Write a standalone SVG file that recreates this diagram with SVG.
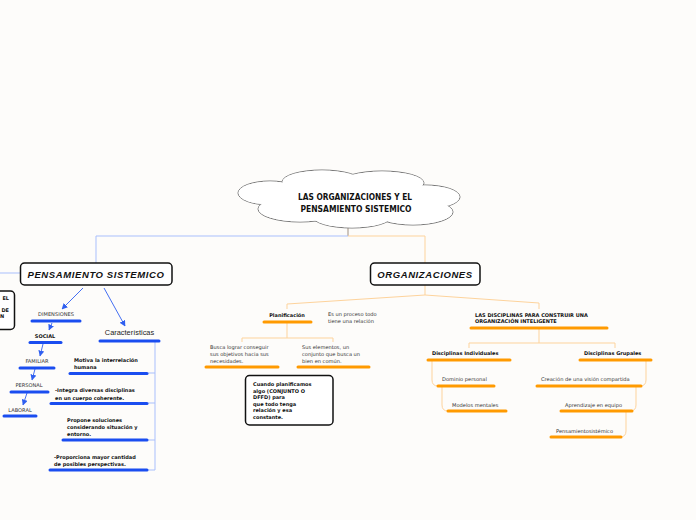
<svg xmlns="http://www.w3.org/2000/svg" width="696" height="520" viewBox="0 0 696 520">
<defs>
<marker id="ab" viewBox="0 0 10 10" refX="9" refY="5" markerWidth="6" markerHeight="6" orient="auto-start-reverse" markerUnits="userSpaceOnUse"><path d="M0,0 L10,5 L0,10 z" fill="#2f5ff0"/></marker>
<style>
text{font-family:"Liberation Sans",Arial,sans-serif;}
.hb{font-size:9.5px;font-weight:bold;font-style:italic;fill:#111;text-anchor:middle;letter-spacing:0.6px}
.box{fill:#fff;stroke:#111;stroke-width:1.5}
.s{font-family:"DejaVu Sans",Verdana,sans-serif;font-size:5.1px;fill:#333}
.sb{font-family:"DejaVu Sans",Verdana,sans-serif;font-size:5px;fill:#111;font-weight:bold}
.ub{stroke:#1a4df0;stroke-width:3;stroke-linecap:round;fill:none}
.uo{stroke:#ff9a00;stroke-width:3;stroke-linecap:round;fill:none}
.cb{stroke:#a9bffc;stroke-width:1;fill:none}
.co{stroke:#fdd39c;stroke-width:1;fill:none}
.arr{stroke:#2f5ff0;stroke-width:0.9;fill:none;marker-end:url(#ab)}
.cl{fill:#fff;stroke:#777;stroke-width:1}
.clf{fill:#fff;stroke:none}
</style>
</defs>
<rect width="696" height="520" fill="#fdfcfa"/>

<g id="connectors">
<path d="M348,228 V236" stroke="#a09080" stroke-width="1" fill="none"/>
<path class="cb" d="M348,236 H96 V263"/>
<path class="co" d="M348,236 H425 V263"/>
<path class="cb" d="M0,273 H20"/>
<path class="arr" d="M83,288 L62,309"/>
<path class="arr" d="M104,288 L125,326"/>
<path class="arr" d="M52,323 L49,330"/>
<path class="arr" d="M43,344 L40,356"/>
<path class="arr" d="M35,369 L32,380"/>
<path class="arr" d="M27,393 L23,405"/>
<path class="cb" d="M155,341 V470 M148,373 H155 M148,403 H155 M148,440 H155 M148,470 H155"/>
<path class="co" d="M425,285 V295 L287,304 V309 M425,295 L539,303 V309"/>
<path class="co" d="M287,322 V338 M242,342 V338 H333 V342"/>
<path class="co" d="M539,328 V343 M469,348 V343 H615 V348"/>
<path class="co" d="M432,360 V380 Q432,386 438,386 M442,386 V405 Q442,411 448,411"/>
<path class="co" d="M646,360 V380 Q646,386 640,386 M636,386 V405 Q636,411 630,411 M626,411 V431 Q626,437 620,437"/>
</g>

<g id="root">
<ellipse class="cl" cx="270" cy="193" rx="32" ry="12"/>
<ellipse class="cl" cx="322" cy="182" rx="40" ry="12"/>
<ellipse class="cl" cx="382" cy="183" rx="42" ry="12"/>
<ellipse class="cl" cx="425" cy="197" rx="35" ry="12"/>
<ellipse class="cl" cx="413" cy="212" rx="40" ry="13"/>
<ellipse class="cl" cx="352" cy="216" rx="40" ry="12"/>
<ellipse class="cl" cx="300" cy="209" rx="42" ry="13"/>
<ellipse class="clf" cx="270" cy="193" rx="31.5" ry="11.5"/>
<ellipse class="clf" cx="322" cy="182" rx="39.5" ry="11.5"/>
<ellipse class="clf" cx="382" cy="183" rx="41.5" ry="11.5"/>
<ellipse class="clf" cx="425" cy="197" rx="34.5" ry="11.5"/>
<ellipse class="clf" cx="413" cy="212" rx="39.5" ry="12.5"/>
<ellipse class="clf" cx="352" cy="216" rx="39.5" ry="11.5"/>
<ellipse class="clf" cx="300" cy="209" rx="41.5" ry="12.5"/>
<ellipse class="clf" cx="350" cy="198" rx="85" ry="18"/>
<text x="355" y="200" text-anchor="middle" font-size="8.5" font-weight="bold" style="font-family:'DejaVu Sans Condensed','DejaVu Sans',sans-serif" textLength="114" lengthAdjust="spacingAndGlyphs" fill="#111">LAS ORGANIZACIONES Y EL</text>
<text x="356" y="212" text-anchor="middle" font-size="8.5" font-weight="bold" style="font-family:'DejaVu Sans Condensed','DejaVu Sans',sans-serif" textLength="111" lengthAdjust="spacingAndGlyphs" fill="#111">PENSAMIENTO SISTEMICO</text>
</g>

<g id="pensamiento">
<rect class="box" x="20.5" y="263" width="151.5" height="22" rx="4"/>
<text class="hb" x="96" y="277.5">PENSAMIENTO SISTEMICO</text>
</g>

<g id="left-cut">
<rect class="box" x="-8" y="291" width="22.5" height="38.5" rx="4"/>
<text class="sb" x="9" y="299.5" text-anchor="end">EL</text>
<text class="sb" x="9" y="312" text-anchor="end">DE</text>
<text class="sb" x="0" y="318">N</text>
</g>

<g id="dimensiones"><text class="s" x="56" y="316" text-anchor="middle">DIMENSIONES</text><path class="ub" d="M32,321 H80"/></g>
<g id="social"><text class="sb" x="45" y="338" text-anchor="middle">SOCIAL</text><path class="ub" d="M30,342.5 H61"/></g>
<g id="familiar"><text class="s" x="37" y="363" text-anchor="middle">FAMILIAR</text><path class="ub" d="M20,368 H54"/></g>
<g id="personal"><text class="s" x="29" y="387" text-anchor="middle">PERSONAL</text><path class="ub" d="M11,392 H48"/></g>
<g id="laboral"><text class="s" x="20" y="412" text-anchor="middle">LABORAL</text><path class="ub" d="M4,416 H36"/></g>

<g id="caracteristicas"><text x="129.5" y="335" text-anchor="middle" font-size="7.4" fill="#222">Características</text><path class="ub" d="M100,341 H159"/></g>
<g id="motiva"><text class="sb" x="74" y="362">Motiva la interrelación</text><text class="sb" x="74" y="369">humana</text><path class="ub" d="M70,373.5 H147"/></g>
<g id="integra"><text class="sb" x="55" y="392">-Integra diversas disciplinas</text><text class="sb" x="55" y="399.5">en un cuerpo coherente.</text><path class="ub" d="M51,403.5 H147"/></g>
<g id="propone"><text class="sb" x="67" y="422">Propone soluciones</text><text class="sb" x="67" y="429">considerando situación y</text><text class="sb" x="67" y="435.5">entorno.</text><path class="ub" d="M63,440 H147"/></g>
<g id="proporciona"><text class="sb" x="54" y="459">-Proporciona mayor cantidad</text><text class="sb" x="54" y="465.5">de posibles perspectivas.</text><path class="ub" d="M50,470 H147"/></g>

<g id="organizaciones">
<rect class="box" x="370.5" y="263" width="109.5" height="22" rx="4"/>
<text class="hb" x="425" y="277.5">ORGANIZACIONES</text>
</g>

<g id="planificacion"><text class="sb" x="287" y="317" text-anchor="middle">Planificación</text><path class="uo" d="M264,322 H311"/></g>
<g id="proceso"><text class="s" x="328" y="316">Es un proceso todo</text><text class="s" x="328" y="322.5">tiene una relación</text></g>
<g id="busca"><text class="s" x="210" y="349">Busca lograr conseguir</text><text class="s" x="210" y="355.5">sus objetivos hacia sus</text><text class="s" x="210" y="362.5">necesidades.</text><path class="uo" d="M206,367 H278"/></g>
<g id="elementos"><text class="s" x="302" y="349">Sus elementos, un</text><text class="s" x="302" y="355.5">conjunto que busca un</text><text class="s" x="302" y="362.5">bien en común.</text><path class="uo" d="M298,367 H369"/></g>
<g id="cuando">
<rect class="box" x="245.5" y="375.5" width="87.5" height="49.5" rx="4"/>
<text class="sb" x="253" y="386">Cuando planificamos</text>
<text class="sb" x="253" y="392.5">algo (CONJUNTO O</text>
<text class="sb" x="253" y="399">DFFD) para</text>
<text class="sb" x="253" y="405.5">que todo tenga</text>
<text class="sb" x="253" y="412">relación y esa</text>
<text class="sb" x="253" y="418.5">constante.</text>
</g>

<g id="disciplinas"><text class="sb" x="475" y="317">LAS DISCIPLINAS PARA CONSTRUIR UNA</text><text class="sb" x="475" y="323">ORGANIZACIÓN INTELIGENTE</text><path class="uo" d="M471,328 H607"/></g>
<g id="individuales"><text class="sb" x="432" y="355">Disciplinas Individuales</text><path class="uo" d="M428,360 H510"/></g>
<g id="grupales"><text class="sb" x="584" y="355">Disciplinas Grupales</text><path class="uo" d="M580,360 H651"/></g>
<g id="dominio"><text class="s" x="442" y="381">Dominio personal</text><path class="uo" d="M438,386 H494"/></g>
<g id="modelos"><text class="s" x="452" y="406.5">Modelos mentales</text><path class="uo" d="M448,411 H506"/></g>
<g id="creacion"><text class="s" x="541" y="381">Creación de una visión compartida</text><path class="uo" d="M537,386 H641"/></g>
<g id="aprendizaje"><text class="s" x="565" y="406.5">Aprendizaje en equipo</text><path class="uo" d="M561,411 H632"/></g>
<g id="pensamientosistemico"><text class="s" x="556" y="432.5">Pensamientosistémico</text><path class="uo" d="M551,437 H621"/></g>
</svg>
